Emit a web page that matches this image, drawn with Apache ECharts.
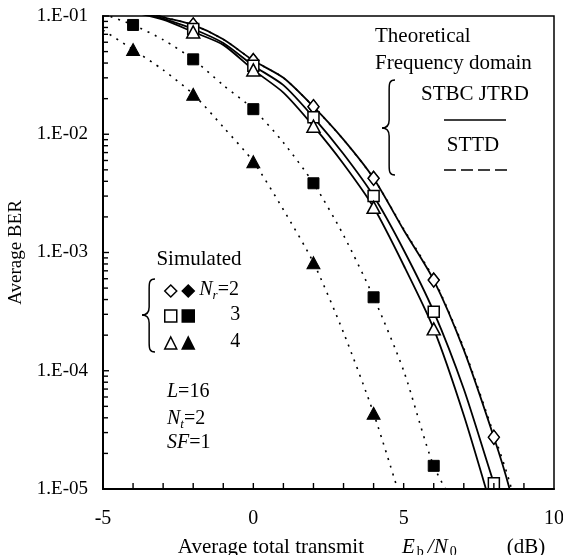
<!DOCTYPE html>
<html>
<head>
<meta charset="utf-8">
<script src="https://cdn.jsdelivr.net/npm/echarts@6/dist/echarts.min.js"></script>
<style>
html, body { margin: 0; padding: 0; background: #fff; }
#main { width: 563px; height: 555px; }
</style>
</head>
<body>
<div id="main"></div>
<script>
// theoretical curves (solid = STBC JTRD)
const ebn0Theory = [-4, -3, -2, -1, 0, 1, 2, 3, 4, 5, 6, 7, 8, 8.5, 9]
const berJtrdNr2 = [0.118, 0.098, 0.084, 0.0635, 0.042, 0.030, 0.0171, 0.009, 0.00424, 0.00155, 0.000585, 0.00015, 0.0000274, 0.0000105, 0.000003]
const berJtrdNr3 = [0.113, 0.095, 0.0776, 0.059, 0.038, 0.026, 0.0139, 0.0068, 0.003, 0.00105, 0.000316, 0.00007, 0.0000112, 0.000005, null]
const berJtrdNr4 = [0.108, 0.093, 0.0733, 0.057, 0.035, 0.0225, 0.0117, 0.0056, 0.00241, 0.00078, 0.000226, 0.000042, 0.0000059, null, null]
// frequency domain (dotted)
const berFdNr2 = [0.118, 0.098, 0.084, 0.0635, 0.042, 0.030, 0.0171, 0.009, 0.00424, 0.00158, 0.0006, 0.000155, 0.000029, 0.000012, 0.000004]
const ebn0Fd = [-5, -4, -3, -2, -1, 0, 1, 2, 3, 4, 5, 6, 7]
const berFdNr3 = [0.104, 0.084, 0.063, 0.043, 0.026, 0.0163, 0.0085, 0.00385, 0.0014, 0.000418, 0.0001, 0.0000157, 0.0000054]
const berFdNr4 = [0.076, 0.052, 0.035, 0.0218, 0.0115, 0.00586, 0.0023, 0.00082, 0.00021, 0.0000437, 0.0000068, null, null]

// simulated points
const ebn0Sim = [-4, -2, 0, 2, 4, 6, 8]
const simJtrdNr2 = [null, 0.084, 0.042, 0.0171, 0.00424, 0.000585, 0.0000274]
const simJtrdNr3 = [null, 0.0776, 0.038, 0.0139, 0.003, 0.000316, 0.0000112]
const simJtrdNr4 = [null, 0.0733, 0.035, 0.0117, 0.00241, 0.000226, null]
// filled diamonds sit under the open ones
const simFdNr2 = [null, 0.084, 0.042, 0.0171, 0.00424, 0.000585, 0.0000274]
const simFdNr3 = [0.084, 0.043, 0.0163, 0.00385, 0.000418, 0.0000157, null]
const simFdNr4 = [0.052, 0.0218, 0.00586, 0.00082, 0.0000437, null, null]

const xTicks = [-5, 0, 5, 10]
const yDecades = [-5, -4, -3, -2, -1]

const serif = '"Liberation Serif", "Times New Roman", serif'
const yMin = Math.pow(10, yDecades[0])
const yMax = Math.pow(10, yDecades[yDecades.length - 1])

function pairs(xs, ys) {
  return xs.map((x, i) => [x, ys[i]])
}

function theoryLine(name, ys, xs, dotted) {
  return {
    name: name,
    type: 'line',
    data: pairs(xs, ys),
    showSymbol: false,
    smooth: 0.25,
    silent: true,
    z: dotted ? 3 : 2,
    lineStyle: dotted
      ? { color: '#000', width: 1.6, type: [2, 6] }
      : { color: '#000', width: 1.8 }
  }
}

function simPoints(name, ys, symbol, size, filled, z) {
  return {
    name: name,
    type: 'scatter',
    data: pairs(ebn0Sim, ys),
    symbol: symbol,
    symbolSize: size,
    z: z,
    itemStyle: filled
      ? { color: '#000', borderColor: '#000', borderWidth: 1, opacity: 1 }
      : { color: '#fff', borderColor: '#000', borderWidth: 1.5, opacity: 1 }
  }
}

// left-pointing curly brace made of bezier pieces
function brace(xTip, xEnd, yTop, yMid, yBot) {
  const xs = xTip + (xEnd - xTip) * 0.55
  const st = { fill: 'none', stroke: '#000', lineWidth: 1.5 }
  return [
    { type: 'bezierCurve', shape: { x1: xEnd, y1: yTop, cpx1: xs, cpy1: yTop, cpx2: xs, cpy2: yTop + 4, x2: xs, y2: yTop + 10 }, style: st },
    { type: 'line', shape: { x1: xs, y1: yTop + 10, x2: xs, y2: yMid - 8 }, style: st },
    { type: 'bezierCurve', shape: { x1: xs, y1: yMid - 8, cpx1: xs, cpy1: yMid - 2, cpx2: xTip + 4, cpy2: yMid, x2: xTip, y2: yMid }, style: st },
    { type: 'bezierCurve', shape: { x1: xTip, y1: yMid, cpx1: xTip + 4, cpy1: yMid, cpx2: xs, cpy2: yMid + 2, x2: xs, y2: yMid + 8 }, style: st },
    { type: 'line', shape: { x1: xs, y1: yMid + 8, x2: xs, y2: yBot - 10 }, style: st },
    { type: 'bezierCurve', shape: { x1: xs, y1: yBot - 10, cpx1: xs, cpy1: yBot - 4, cpx2: xs, cpy2: yBot, x2: xEnd, y2: yBot }, style: st }
  ]
}

const subRich = {
  n: { fontFamily: serif, fontSize: 20, lineHeight: 22, verticalAlign: 'top', color: '#000' },
  i: { fontFamily: serif, fontSize: 20, fontStyle: 'italic', lineHeight: 22, verticalAlign: 'top', color: '#000' },
  s: { fontFamily: serif, fontSize: 13, fontStyle: 'italic', lineHeight: 13, verticalAlign: 'bottom', padding: [12, 0, 0, 0], color: '#000' },
  w: { fontFamily: serif, fontSize: 20, lineHeight: 22, width: 41, align: 'right', verticalAlign: 'top', color: '#000' }
}

const legendText = {
  'JTRD Nr=2': '', 'FD Nr=2': '{i|N}{s|r}{n|=2}',
  'JTRD Nr=3': '', 'FD Nr=3': '{w|3}',
  'JTRD Nr=4': '', 'FD Nr=4': '{w|4}'
}

function simLegend(top, names) {
  return {
    top: top,
    left: 164,
    orient: 'horizontal',
    padding: 0,
    itemGap: 4,
    itemWidth: 12,
    itemHeight: 12,
    selectedMode: false,
    data: names,
    formatter: name => legendText[name],
    itemStyle: { borderColor: '#000', borderWidth: 1.5 },
    textStyle: { fontFamily: serif, fontSize: 20, color: '#000', rich: subRich }
  }
}

const notes = [
  { type: 'text', x: 375, y: 36, style: { text: 'Theoretical', font: '21px ' + serif, fill: '#000', verticalAlign: 'middle' } },
  { type: 'text', x: 375, y: 63, style: { text: 'Frequency domain', font: '21px ' + serif, fill: '#000', verticalAlign: 'middle' } },
  { type: 'text', x: 475, y: 94, style: { text: 'STBC JTRD', font: '21px ' + serif, fill: '#000', align: 'center', verticalAlign: 'middle' } },
  { type: 'line', shape: { x1: 444, y1: 120, x2: 506, y2: 120 }, style: { stroke: '#000', lineWidth: 1.6 } },
  { type: 'text', x: 473, y: 145, style: { text: 'STTD', font: '21px ' + serif, fill: '#000', align: 'center', verticalAlign: 'middle' } },
  { type: 'line', shape: { x1: 444, y1: 170, x2: 507, y2: 170 }, style: { stroke: '#000', lineWidth: 1.6, lineDash: [12, 5] } },
  { type: 'text', x: 199, y: 259, style: { text: 'Simulated', font: '21px ' + serif, fill: '#000', align: 'center', verticalAlign: 'middle' } },
  { type: 'text', x: 167, y: 393, style: { text: '{i|L}{n|=16}', rich: subRich, verticalAlign: 'middle' } },
  { type: 'text', x: 167, y: 420, style: { text: '{i|N}{s|t}{n|=2}', rich: subRich, verticalAlign: 'middle' } },
  { type: 'text', x: 167, y: 444, style: { text: '{i|SF}{n|=1}', rich: subRich, verticalAlign: 'middle' } }
].concat(brace(382, 395, 80, 128, 175), brace(142, 155, 279, 315, 352))

const myChart = echarts.init(document.getElementById('main'))
myChart.setOption({
  animation: false,
  grid: {
    left: 103, right: 9, top: 16, bottom: 66,
    show: true, borderColor: '#000', borderWidth: 1.5,
    outerBoundsMode: 'none'
  },
  legend: [
    simLegend(277, ['JTRD Nr=2', 'FD Nr=2']),
    simLegend(305, ['JTRD Nr=3', 'FD Nr=3']),
    simLegend(332, ['JTRD Nr=4', 'FD Nr=4'])
  ],
  xAxis: {
    type: 'value',
    min: xTicks[0],
    max: xTicks[xTicks.length - 1],
    interval: 5,
    name: '{t|Average total transmit}{g|}{i|E}{s|b}{i|/N}{s|0}{g2|}{t|(dB)}',
    nameLocation: 'middle',
    nameGap: 44,
    nameTextStyle: {
      fontFamily: serif, fontSize: 21, color: '#000',
      padding: [0, 0, 0, 66],
      rich: {
        t: { fontFamily: serif, fontSize: 21, lineHeight: 22, verticalAlign: 'top', color: '#000' },
        g: { width: 38 },
        g2: { width: 46 },
        i: { fontFamily: serif, fontSize: 21, fontStyle: 'italic', lineHeight: 22, verticalAlign: 'top', color: '#000' },
        s: { fontFamily: serif, fontSize: 14, lineHeight: 14, verticalAlign: 'bottom', padding: [11, 4, 0, 2], color: '#000' }
      }
    },
    axisLine: { onZero: false, lineStyle: { color: '#000', width: 2 } },
    axisTick: { show: false },
    axisLabel: { color: '#000', fontFamily: serif, fontSize: 20, margin: 20 },
    splitLine: { show: false }
  },
  yAxis: {
    type: 'log',
    logBase: 10,
    min: yMin,
    max: yMax,
    position: 'left',
    name: 'Average BER',
    nameLocation: 'middle',
    nameGap: 75,
    nameTextStyle: { fontFamily: serif, fontSize: 19, color: '#000' },
    axisLine: { show: true, onZero: false, lineStyle: { color: '#000', width: 2 } },
    axisTick: { show: false },
    axisLabel: {
      color: '#000', fontFamily: serif, fontSize: 19, margin: 15,
      formatter: v => '1.E-0' + Math.round(-Math.log10(v))
    },
    splitLine: { show: false }
  },
  series: [
    theoryLine('JTRD theory Nr=2', berJtrdNr2, ebn0Theory, false),
    theoryLine('JTRD theory Nr=3', berJtrdNr3, ebn0Theory, false),
    theoryLine('JTRD theory Nr=4', berJtrdNr4, ebn0Theory, false),
    theoryLine('FD theory Nr=2', berFdNr2, ebn0Theory, true),
    theoryLine('FD theory Nr=3', berFdNr3, ebn0Fd, true),
    theoryLine('FD theory Nr=4', berFdNr4, ebn0Fd, true),
    simPoints('FD Nr=2', simFdNr2, 'diamond', [11, 14], true, 3),
    simPoints('FD Nr=3', simFdNr3, 'rect', 11, true, 3),
    simPoints('FD Nr=4', simFdNr4, 'triangle', [13, 12], true, 3),
    simPoints('JTRD Nr=2', simJtrdNr2, 'diamond', [11, 14], false, 4),
    simPoints('JTRD Nr=3', simJtrdNr3, 'rect', 11, false, 4),
    simPoints('JTRD Nr=4', simJtrdNr4, 'triangle', [13, 12], false, 4)
  ],
  graphic: notes
})

// inward ticks: 1 dB steps on x, 1..9 of each decade on y, placed through the chart's own scales
const tickLine = { stroke: '#000', lineWidth: 1.4 }
const ticks = []
for (let x = xTicks[0] + 1; x < xTicks[xTicks.length - 1]; x++) {
  const p = myChart.convertToPixel({ gridIndex: 0 }, [x, yMin])
  ticks.push({ type: 'line', z: 10, shape: { x1: p[0], y1: p[1], x2: p[0], y2: p[1] - 6 }, style: tickLine })
}
yDecades.forEach(d => {
  for (let k = 1; k <= 9; k++) {
    const v = k * Math.pow(10, d)
    if (v > yMax * 1.0001) break
    const p = myChart.convertToPixel({ gridIndex: 0 }, [xTicks[0], v])
    ticks.push({ type: 'line', z: 10, shape: { x1: p[0], y1: p[1], x2: p[0] + (k === 1 ? 6 : 5), y2: p[1] }, style: tickLine })
  }
})
myChart.setOption({ graphic: { elements: notes.concat(ticks) } })
</script>
</body>
</html>
